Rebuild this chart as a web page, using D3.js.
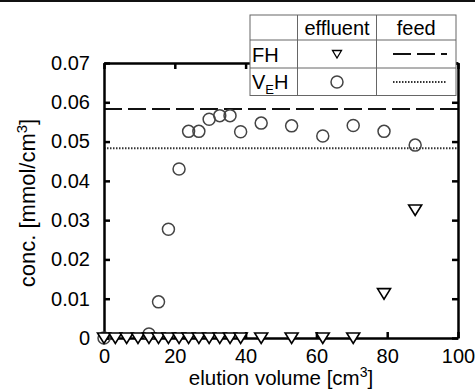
<!DOCTYPE html>
<html>
<head>
<meta charset="utf-8">
<script src="https://cdn.jsdelivr.net/npm/d3@7"></script>
<style>
  body { margin: 0; background: #fff; }
  svg { display: block; font-family: "Liberation Sans", Arial, sans-serif; }
</style>
</head>
<body>
<div id="container"></div>
<script>
// elution volume of each sample [cm3]
var volume = [0, 3.2, 6.4, 9.6, 12.7, 15.4, 18.2, 21.2, 23.9, 26.8, 29.7, 32.7, 35.6, 38.6, 44.4, 53.0, 61.8, 70.4, 79.1, 87.9];
// effluent conc. [mmol/cm3]
var fhEffluent = [0, 0, 0, 0, 0, 0, 0, 0, 0, 0, 0, 0, 0, 0, 0, 0, 0, 0, 0.0113, 0.0326];
var vehEffluent = [0, null, null, null, 0.001, 0.0092, 0.0277, 0.043, 0.0526, 0.0526, 0.0557, 0.0566, 0.0566, 0.0525, 0.0547, 0.054, 0.0514, 0.0541, 0.0526, 0.0491];
// feed conc.
var fhFeed = 0.0583;
var vehFeed = 0.0483;

var xTicks = [0, 20, 40, 60, 80, 100];
var yTicks = [0, 0.01, 0.02, 0.03, 0.04, 0.05, 0.06, 0.07];

var w = 475, h = 390;
var margin = {left: 104, right: 17, top: 63, bottom: 52};

var svg = d3.select("div#container")
  .append("svg")
  .attr("width", w)
  .attr("height", h);

// dark strip along the top edge of the picture
svg.append("rect")
  .attr("x", 0).attr("y", 0)
  .attr("width", w).attr("height", 2)
  .attr("fill", "#111");

var x = d3.scaleLinear().domain([0, 100]).range([margin.left, w - margin.right]);
var y = d3.scaleLinear().domain([0, 0.07]).range([h - margin.bottom, margin.top]);

var fmtY = function(d) { return d === 0 ? "0" : d3.format(".2f")(d); };

// feed lines
svg.append("line")
  .attr("x1", x(0)).attr("x2", x(100))
  .attr("y1", y(fhFeed)).attr("y2", y(fhFeed))
  .attr("stroke", "#111").attr("stroke-width", 2)
  .attr("stroke-dasharray", "18,6");

svg.append("line")
  .attr("x1", x(0)).attr("x2", x(100))
  .attr("y1", y(vehFeed)).attr("y2", y(vehFeed))
  .attr("stroke", "#333").attr("stroke-width", 2)
  .attr("stroke-dasharray", "1.5,1.5");

// axes, ticks all pointing inward
function styleAxis(g) {
  g.select(".domain").attr("stroke", "#000").attr("stroke-width", 2.5);
  g.selectAll(".tick line").attr("stroke", "#000").attr("stroke-width", 2.5);
  g.selectAll(".tick text").attr("font-size", 20).attr("fill", "#000")
    .attr("font-family", "'Liberation Sans', Arial, sans-serif");
}

svg.append("g")
  .attr("transform", "translate(0," + y(0) + ")")
  .call(d3.axisBottom(x).tickValues(xTicks).tickSize(-6).tickSizeOuter(0).tickPadding(11))
  .call(styleAxis);

svg.append("g")
  .attr("transform", "translate(0," + y(0.07) + ")")
  .call(d3.axisTop(x).tickValues(xTicks).tickSize(-6).tickSizeOuter(0).tickFormat(""))
  .call(styleAxis);

svg.append("g")
  .attr("transform", "translate(" + x(0) + ",0)")
  .call(d3.axisLeft(y).tickValues(yTicks).tickSize(-6).tickSizeOuter(0).tickPadding(14).tickFormat(fmtY))
  .call(styleAxis);

svg.append("g")
  .attr("transform", "translate(" + x(100) + ",0)")
  .call(d3.axisRight(y).tickValues(yTicks).tickSize(-6).tickSizeOuter(0).tickFormat(""))
  .call(styleAxis);

// VEH effluent circles
var vehPts = volume.map(function(v, i) { return {v: v, c: vehEffluent[i]}; })
  .filter(function(d) { return d.c !== null; });

svg.append("g")
  .selectAll("circle")
  .data(vehPts)
  .enter().append("circle")
  .attr("cx", function(d) { return x(d.v); })
  .attr("cy", function(d) { return y(d.c); })
  .attr("r", 6)
  .attr("fill", "none")
  .attr("stroke", "#444")
  .attr("stroke-width", 1.5);

// FH effluent triangles (pointing down)
var tri = "M-6.5,-5L6.5,-5L0,5.5Z";
var fhPts = volume.map(function(v, i) { return {v: v, c: fhEffluent[i]}; });

svg.append("g")
  .selectAll("path")
  .data(fhPts)
  .enter().append("path")
  .attr("d", tri)
  .attr("transform", function(d) { return "translate(" + x(d.v) + "," + y(d.c) + ")"; })
  .attr("fill", "#fff")
  .attr("stroke", "#000")
  .attr("stroke-width", 1.6);

// axis titles
svg.append("text")
  .attr("x", 281).attr("y", 385)
  .attr("text-anchor", "middle")
  .attr("font-size", 20.5)
  .html('elution volume [cm<tspan dy="-8" font-size="14">3</tspan><tspan dy="8">]</tspan>');

svg.append("text")
  .attr("transform", "translate(35,203) rotate(-90)")
  .attr("text-anchor", "middle")
  .attr("font-size", 22)
  .html('conc. [mmol/cm<tspan dy="-8" font-size="15">3</tspan><tspan dy="8">]</tspan>');

// legend table
var cols = [250, 297.5, 376.5, 456];
var rows = [15, 40, 68, 95.5];
var legend = svg.append("g");

legend.append("rect")
  .attr("x", cols[0]).attr("y", rows[0])
  .attr("width", cols[3] - cols[0]).attr("height", rows[3] - rows[0])
  .attr("fill", "#fff").attr("stroke", "#666").attr("stroke-width", 1);

[cols[1], cols[2]].forEach(function(cx) {
  legend.append("line")
    .attr("x1", cx).attr("x2", cx).attr("y1", rows[0]).attr("y2", rows[3])
    .attr("stroke", "#666").attr("stroke-width", 1);
});
[rows[1], rows[2]].forEach(function(ry) {
  legend.append("line")
    .attr("x1", cols[0]).attr("x2", cols[3]).attr("y1", ry).attr("y2", ry)
    .attr("stroke", "#666").attr("stroke-width", 1);
});

legend.append("text")
  .attr("x", (cols[1] + cols[2]) / 2).attr("y", 35)
  .attr("text-anchor", "middle").attr("font-size", 20)
  .text("effluent");
legend.append("text")
  .attr("x", (cols[2] + cols[3]) / 2).attr("y", 35)
  .attr("text-anchor", "middle").attr("font-size", 20)
  .text("feed");
legend.append("text")
  .attr("x", 252).attr("y", 62)
  .attr("font-size", 20)
  .text("FH");
legend.append("text")
  .attr("x", 252).attr("y", 89)
  .attr("font-size", 20)
  .html('V<tspan dy="5" font-size="13">E</tspan><tspan dy="-5">H</tspan>');

legend.append("path")
  .attr("d", "M-4.5,-3.5L4.5,-3.5L0,4Z")
  .attr("transform", "translate(" + (cols[1] + cols[2]) / 2 + ",54)")
  .attr("fill", "#fff").attr("stroke", "#000").attr("stroke-width", 1.3);
legend.append("circle")
  .attr("cx", (cols[1] + cols[2]) / 2).attr("cy", 82).attr("r", 6)
  .attr("fill", "none").attr("stroke", "#444").attr("stroke-width", 1.5);

legend.append("line")
  .attr("x1", 393).attr("x2", 447).attr("y1", 54).attr("y2", 54)
  .attr("stroke", "#111").attr("stroke-width", 2)
  .attr("stroke-dasharray", "18,6");
legend.append("line")
  .attr("x1", 393).attr("x2", 447).attr("y1", 82).attr("y2", 82)
  .attr("stroke", "#333").attr("stroke-width", 2)
  .attr("stroke-dasharray", "1.5,1.5");
</script>
</body>
</html>
